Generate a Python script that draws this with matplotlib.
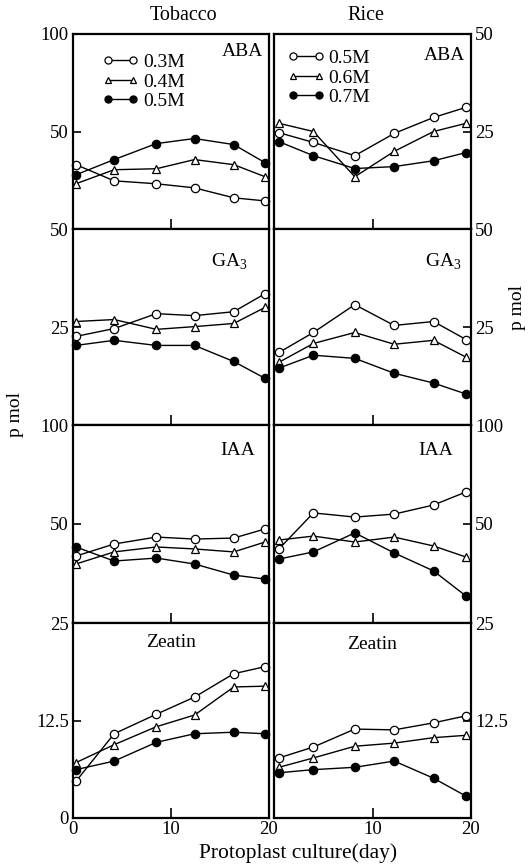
import matplotlib
matplotlib.use("Agg")
import matplotlib.pyplot as plt

plt.rcParams['font.family'] = ['Liberation Serif', 'DejaVu Serif']
plt.rcParams['mathtext.fontset'] = 'custom'
plt.rcParams['mathtext.rm'] = 'Liberation Serif'

# days
days_tob = [0.3, 4.2, 8.5, 12.4, 16.4, 19.6]
days_rice = [0.5, 4.0, 8.2, 12.2, 16.2, 19.5]

conc_tob = ['0.3M', '0.4M', '0.5M']
conc_rice = ['0.5M', '0.6M', '0.7M']

# Tobacco (pmol)
tob_aba = [[33.0, 24.7, 23.2, 21.1, 16.0, 14.4],
           [23.2, 30.4, 30.9, 35.6, 33.0, 26.8],
           [27.8, 35.6, 43.8, 46.4, 43.3, 34.0]]
tob_ga3 = [[22.6, 24.6, 28.4, 27.9, 28.9, 33.5],
           [26.4, 26.9, 24.4, 25.1, 25.9, 30.0],
           [20.3, 21.6, 20.3, 20.3, 16.2, 11.9]]
tob_iaa = [[33.8, 39.9, 43.4, 42.4, 42.9, 47.5],
           [29.8, 35.9, 38.4, 37.4, 35.9, 40.9],
           [38.4, 31.3, 32.8, 29.8, 24.2, 22.2]]
tob_zea = [[4.7, 10.8, 13.3, 15.5, 18.5, 19.4],
           [7.1, 9.4, 11.7, 13.2, 16.8, 16.9],
           [6.2, 7.3, 9.7, 10.8, 11.0, 10.8]]

# Rice (pmol)
rice_aba = [[24.7, 22.2, 18.8, 24.5, 28.6, 31.2],
            [27.1, 25.0, 13.4, 19.9, 25.0, 27.1],
            [22.4, 18.8, 15.5, 16.0, 17.5, 19.6]]
rice_ga3 = [[18.5, 23.6, 30.7, 25.4, 26.4, 21.8],
            [16.0, 20.8, 23.6, 20.6, 21.6, 17.3],
            [14.5, 17.8, 17.0, 13.2, 10.7, 7.9]]
rice_iaa = [[37.4, 55.6, 53.5, 55.0, 59.6, 66.2],
            [41.9, 43.9, 40.9, 43.4, 38.9, 33.3],
            [32.3, 35.9, 45.5, 35.4, 26.3, 13.6]]
rice_zea = [[7.7, 9.1, 11.4, 11.3, 12.2, 13.1],
            [6.5, 7.7, 9.2, 9.6, 10.3, 10.6],
            [5.8, 6.2, 6.5, 7.3, 5.1, 2.8]]

hormones = ['ABA', r'GA$_\mathregular{3}$', 'IAA', 'Zeatin']
tob_data = [tob_aba, tob_ga3, tob_iaa, tob_zea]
rice_data = [rice_aba, rice_ga3, rice_iaa, rice_zea]
tob_top = [100, 50, 100, 25]
rice_top = [50, 50, 100, 25]

styles = [dict(marker='o', mfc='white', ms=6),
          dict(marker='^', mfc='white', ms=5.5),
          dict(marker='o', mfc='black', ms=6)]

W, H = 528, 866
fig = plt.figure(figsize=(W / 100, H / 100), dpi=100)

rows = [34, 229, 425, 623, 818]
cols = [(73, 269), (274, 471)]

label_pos = [[(0.97, 0.91, 'right'), (0.80, 0.83, 'center'), (0.84, 0.87, 'center'), (0.50, 0.90, 'center')],
             [(0.97, 0.89, 'right'), (0.86, 0.83, 'center'), (0.82, 0.87, 'center'), (0.50, 0.89, 'center')]]


def fmt(v):
    return '12.5' if v == 12.5 else str(int(v))


for c, (x0, x1) in enumerate(cols):
    days = days_tob if c == 0 else days_rice
    data = tob_data if c == 0 else rice_data
    tops = tob_top if c == 0 else rice_top
    conc = conc_tob if c == 0 else conc_rice
    for r in range(4):
        ax = fig.add_axes([x0 / W, 1 - rows[r + 1] / H, (x1 - x0) / W, (rows[r + 1] - rows[r]) / H])
        for k in range(3):
            ax.plot(days, data[r][k], color='black', lw=1.0, mec='black', mew=0.9,
                    clip_on=False, label=conc[k], **styles[k])
        top = tops[r]
        ax.set_xlim(0, 20)
        ax.set_ylim(0, top)
        for s in ax.spines.values():
            s.set_linewidth(1.6)
        ax.set_xticks([0, 10, 20])
        ax.tick_params(axis='x', direction='in', length=7, width=1.2, labelsize=13.5, pad=2)
        if r < 3:
            ax.set_xticklabels([])
        elif c == 1:
            ax.set_xticklabels(['', '10', '20'])
        ax.set_yticks([top / 2, top] if not (c == 0 and r == 3) else [0, top / 2, top])
        ax.set_yticklabels([fmt(v) for v in ax.get_yticks()])
        ax.tick_params(axis='y', direction='in', length=6, width=1.2, labelsize=13.5, pad=3)
        if c == 1:
            ax.yaxis.tick_right()
            ax.tick_params(axis='y', direction='in')
        lx, ly, ha = label_pos[c][r]
        ax.text(lx, ly, hormones[r], transform=ax.transAxes, ha=ha, va='center', fontsize=14)
        if r == 0:
            ax.legend(loc='upper left', bbox_to_anchor=(0.08, 0.97) if c == 0 else (0.0, 0.99),
                      frameon=False, numpoints=2, handlelength=1.9, handletextpad=0.2,
                      labelspacing=0.1, fontsize=14, borderaxespad=0.3, markerscale=0.85)

fig.text(184 / W, 1 - 15 / H, 'Tobacco', ha='center', va='center', fontsize=14.5)
fig.text(366 / W, 1 - 15 / H, 'Rice', ha='center', va='center', fontsize=14.5)
fig.text(15 / W, 1 - 415 / H, 'p mol', rotation=90, ha='center', va='center', fontsize=14)
fig.text(518 / W, 1 - 308 / H, 'p mol', rotation=90, ha='center', va='center', fontsize=14)
fig.text(298 / W, 1 - 853 / H, 'Protoplast culture(day)', ha='center', va='center', fontsize=15.5)

fig.savefig('out.png', dpi=100)
